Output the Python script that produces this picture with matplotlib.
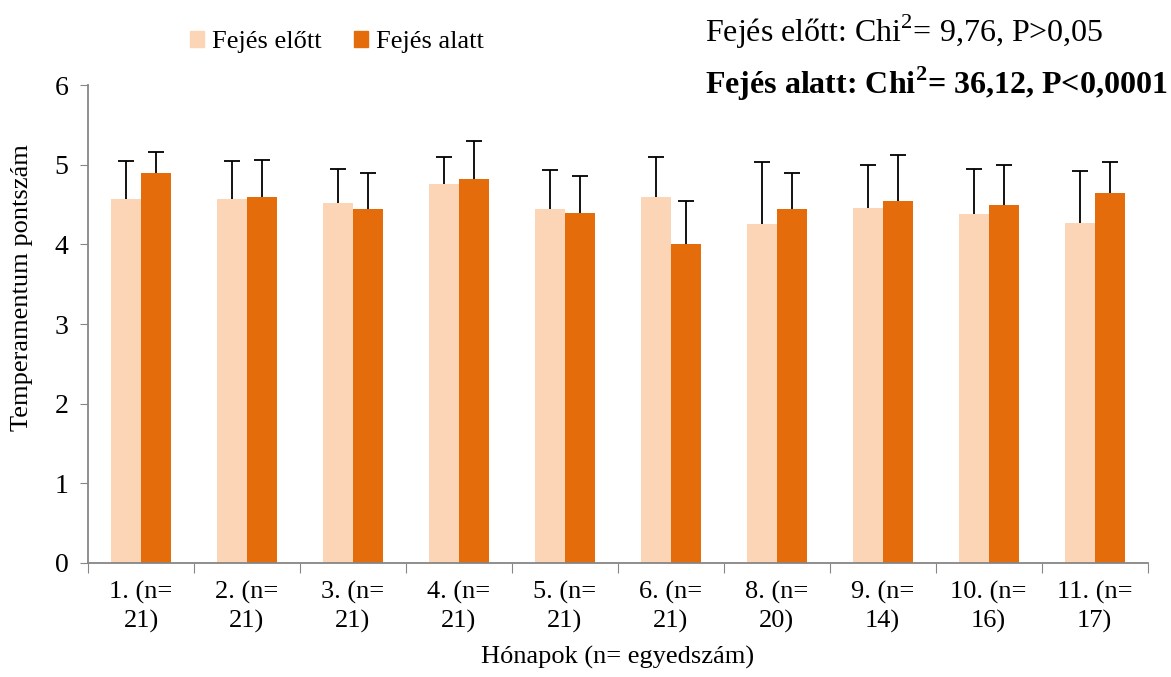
import numpy as np
import matplotlib.pyplot as plt
from matplotlib.patches import Patch

plt.rcParams['font.family'] = ['Liberation Serif', 'DejaVu Serif']
plt.rcParams['mathtext.fontset'] = 'custom'
plt.rcParams['mathtext.rm'] = 'Liberation Serif'
plt.rcParams['mathtext.bf'] = 'Liberation Serif:bold'

# hónapok és egyedszám
honapok = ['1. (n=\n21)', '2. (n=\n21)', '3. (n=\n21)', '4. (n=\n21)', '5. (n=\n21)',
           '6. (n=\n21)', '8. (n=\n20)', '9. (n=\n14)', '10. (n=\n16)', '11. (n=\n17)']

# átlag pontszámok
elotte = [4.57, 4.57, 4.52, 4.76, 4.45, 4.60, 4.25, 4.46, 4.38, 4.27]
alatta = [4.90, 4.60, 4.45, 4.82, 4.39, 4.00, 4.45, 4.54, 4.50, 4.65]

# szórás (felső hibasáv)
elotte_sd = [0.48, 0.48, 0.43, 0.34, 0.48, 0.50, 0.79, 0.54, 0.56, 0.65]
alatta_sd = [0.26, 0.46, 0.45, 0.48, 0.47, 0.55, 0.44, 0.58, 0.49, 0.39]

VILAGOS = '#FBD5B5'
SOTET = '#E46C0A'

fig = plt.figure(figsize=(11.71, 6.77), dpi=100)
ax = fig.add_axes([0.0752, 0.1684, 0.9048, 0.706])

x = np.arange(len(honapok))
w = 0.283


def felso_hibasav(xpos, ertek, sd):
    # csak a felső hibasáv, alsó sapka nélkül
    _, caps, _ = ax.errorbar(xpos, ertek, yerr=[np.zeros(len(sd)), sd], fmt='none',
                             ecolor='black', elinewidth=1.3, capsize=6, capthick=1.3,
                             zorder=3)
    caps[0].set_visible(False)


ax.bar(x - w / 2, elotte, w, color=VILAGOS, zorder=2)
ax.bar(x + w / 2, alatta, w, color=SOTET, zorder=2)
felso_hibasav(x - w / 2, elotte, elotte_sd)
felso_hibasav(x + w / 2, alatta, alatta_sd)

ax.set_xlim(-0.5, len(x) - 0.5)
ax.set_ylim(0, 6)
ax.set_yticks(range(7))
ax.tick_params(axis='y', labelsize=20, length=6, color='#868686', pad=8)

# kategóriahatárok tickjei, feliratok a csoportok közepén
ax.set_xticks(np.arange(-0.5, len(x), 1.0))
ax.set_xticklabels([])
ax.set_xticks(x, minor=True)
ax.set_xticklabels(honapok, minor=True, fontsize=19, linespacing=1.35)
ax.tick_params(axis='x', which='major', length=7, color='#868686')
ax.tick_params(axis='x', which='minor', length=0, pad=13)

for s in ['top', 'right']:
    ax.spines[s].set_visible(False)
for s in ['left', 'bottom']:
    ax.spines[s].set_color('#868686')
    ax.spines[s].set_linewidth(1.3)

ax.set_ylabel('Temperamentum pontszám', fontsize=19)
ax.yaxis.set_label_coords(-0.052, 0.577)
ax.set_xlabel('Hónapok (n= egyedszám)', fontsize=19, labelpad=9)

handles = [Patch(color=VILAGOS, label='Fejés előtt'),
           Patch(color=SOTET, label='Fejés alatt')]
fig.legend(handles=handles, loc='center', bbox_to_anchor=(337 / 1171, 1 - 42 / 677),
           ncol=2, frameon=False, fontsize=19, handlelength=0.55, handleheight=0.55,
           handletextpad=0.3, columnspacing=1.2)

fig.text(705 / 1171, 1 - 32 / 677, r'Fejés előtt: Chi$^{2}$= 9,76, P>0,05',
         fontsize=23, ha='left', va='center')
fig.text(705 / 1171, 1 - 84 / 677, r'Fejés alatt: Chi$^{\mathbf{2}}$= 36,12, P<0,0001',
         fontsize=23, fontweight='bold', ha='left', va='center')

fig.savefig('out.png', dpi=100)
